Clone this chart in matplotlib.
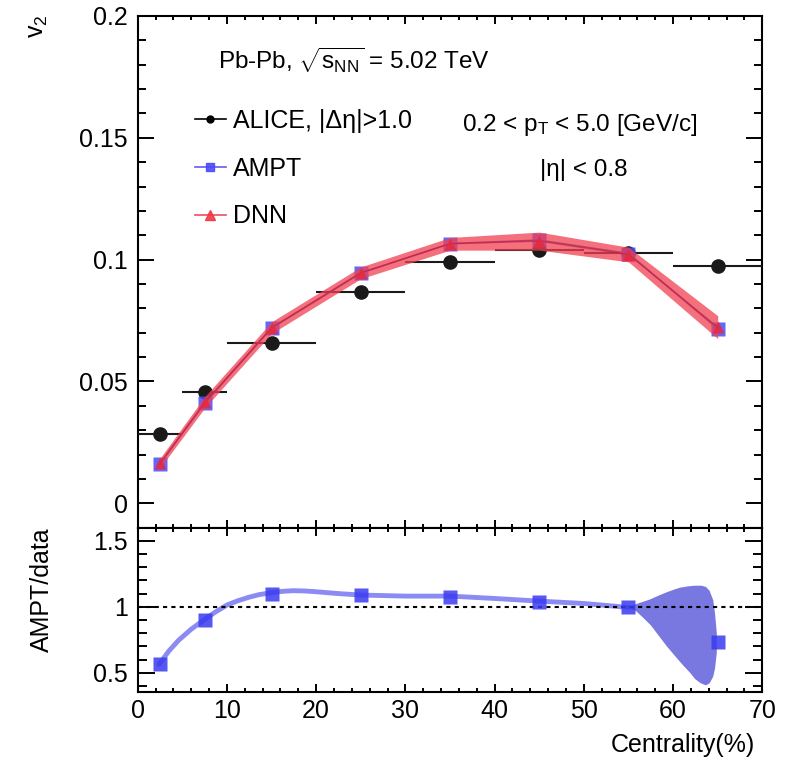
import numpy as np
import matplotlib
matplotlib.use("Agg")
import matplotlib.pyplot as plt
from matplotlib.lines import Line2D
from matplotlib.ticker import MultipleLocator

plt.rcParams['font.family'] = ['Liberation Sans', 'DejaVu Sans']
plt.rcParams['mathtext.fontset'] = 'custom'
plt.rcParams['mathtext.rm'] = 'Liberation Sans'
plt.rcParams['mathtext.it'] = 'Liberation Sans'
plt.rcParams['mathtext.sf'] = 'Liberation Sans'

# --- data ---
cent = np.array([2.5, 7.5, 15, 25, 35, 45, 55, 65])
cent_halfwidth = np.array([2.5, 2.5, 5, 5, 5, 5, 5, 5])

alice_v2 = np.array([0.0286, 0.0457, 0.0656, 0.0868, 0.0990, 0.1040, 0.1026, 0.0974])
alice_err = np.array([0.0003, 0.0003, 0.0003, 0.0004, 0.0004, 0.0005, 0.0005, 0.0005])

ampt_v2 = np.array([0.0162, 0.0410, 0.0719, 0.0945, 0.1066, 0.1080, 0.1025, 0.0717])

dnn_v2 = np.array([0.0165, 0.0414, 0.0721, 0.0946, 0.1065, 0.1076, 0.1021, 0.0723])
dnn_err = np.array([0.0020, 0.0023, 0.0024, 0.0024, 0.0026, 0.0037, 0.0030, 0.0047])

# smooth ratio curve as drawn in the lower panel
curve_x = [2.4, 3.5, 4.6, 6.0, 7.4, 8.7, 10, 11.2, 12.4, 13.6, 14.9, 16.2, 17.4,
           18.7, 20, 22.5, 25, 30, 35, 40, 45, 50, 55]
curve_r = [0.564, 0.665, 0.747, 0.830, 0.899, 0.960, 1.013, 1.045, 1.071, 1.092,
           1.106, 1.117, 1.122, 1.120, 1.114, 1.100, 1.089, 1.081, 1.081, 1.063,
           1.043, 1.025, 0.995]

# outline of the ratio uncertainty band for the last bins
band_x = [55, 56.3, 57.4, 58.4, 59.3, 60.1, 60.8, 61.7, 62.5, 63.2, 63.7, 64.1,
          64.5, 64.7, 64.9, 64.9, 64.7, 64.5, 64.1, 63.7, 63.1, 62.5, 61.9,
          61.2, 60.3, 59.3, 58.4, 57.5, 56.6, 55.8, 55]
band_r = [1.0, 1.03, 1.055, 1.085, 1.11, 1.13, 1.145, 1.155, 1.16, 1.16, 1.15,
          1.12, 1.05, 0.95, 0.8, 0.65, 0.53, 0.47, 0.42, 0.404, 0.42, 0.45, 0.5,
          0.55, 0.62, 0.70, 0.78, 0.86, 0.92, 0.97, 0.99]

ratio = ampt_v2 / alice_v2

fig = plt.figure(figsize=(7.85, 7.61), dpi=100)
ax = fig.add_axes([0.1754, 0.3066, 0.7957, 0.6724])
axr = fig.add_axes([0.1754, 0.0911, 0.7957, 0.2155])

blue = '#4b4bf5'
red = '#e8283c'

# --- main panel ---
ax.errorbar(cent, alice_v2, xerr=cent_halfwidth, yerr=alice_err, fmt='o',
            color='#1a1a1a', ms=9.5, elinewidth=1.5, capsize=0, zorder=3)
ax.plot(cent, ampt_v2, '-', color='#3030c0', lw=1.2, zorder=4)
ax.plot(cent, ampt_v2, 's', color=blue, alpha=0.85, ms=10, mec='none', zorder=4)
ax.fill_between(cent, dnn_v2 - dnn_err, dnn_v2 + dnn_err, color='#f04050',
                alpha=0.75, lw=0, zorder=5)
ax.plot(cent, dnn_v2, '-', color='#c0203a', lw=1.0, alpha=0.6, zorder=6)
ax.plot(cent, dnn_v2, '^', color=red, alpha=0.85, ms=9, mec='none', zorder=6)

ax.set_xlim(0, 70)
ax.set_ylim(-0.01, 0.2)
ax.xaxis.set_major_locator(MultipleLocator(10))
ax.xaxis.set_minor_locator(MultipleLocator(2))
ax.yaxis.set_minor_locator(MultipleLocator(0.01))
ax.set_yticks([0, 0.05, 0.1, 0.15, 0.2])
ax.set_yticklabels(['0', '0.05', '0.1', '0.15', '0.2'])
ax.tick_params(axis='both', which='both', direction='in', top=True, right=True,
               labelsize=18, width=1.4)
ax.tick_params(axis='y', which='major', length=11.5, pad=7)
ax.tick_params(axis='y', which='minor', length=5.8)
ax.tick_params(axis='x', which='major', length=5.8, labelbottom=False)
ax.tick_params(axis='x', which='minor', length=2.9)
for s in ax.spines.values():
    s.set_linewidth(1.5)

handles = [
    Line2D([], [], color='black', marker='o', ms=5, lw=1.2),
    Line2D([], [], color=blue, marker='s', ms=6, lw=1.2, alpha=0.9),
    Line2D([], [], color='#f03848', marker='^', ms=7, lw=1.2, alpha=0.9),
]
ax.legend(handles, [u'ALICE, |\u0394\u03b7|>1.0', 'AMPT', 'DNN'],
          loc='upper left', bbox_to_anchor=(0.075, 0.838), frameon=False,
          fontsize=18, handlelength=1.25, handletextpad=0.3,
          labelspacing=0.95, borderaxespad=0)

ax.text(0.128, 0.914, r'Pb-Pb, $\sqrt{s_{\rm NN}}$ = 5.02 TeV',
        transform=ax.transAxes, fontsize=17.5, va='center', ha='left')
ax.text(0.52, 0.787, r'0.2 < p$_{\rm T}$ < 5.0 [GeV/c]',
        transform=ax.transAxes, fontsize=17.5, va='center', ha='left')
ax.text(0.644, 0.699, u'|\u03b7| < 0.8',
        transform=ax.transAxes, fontsize=17.5, va='center', ha='left')

# --- ratio panel ---
axr.fill(band_x, band_r, color='#7878e0', lw=0, zorder=2)
axr.plot(curve_x, curve_r, '-', color='#5a5af0', lw=3.5, alpha=0.7,
         solid_capstyle='round', zorder=3)
axr.axhline(1.0, color='black', ls=(0, (2, 2)), lw=1.5, zorder=4)
axr.plot(cent, ratio, 's', color='#3a3af0', alpha=0.85, ms=10, mec='none', zorder=5)

axr.set_xlim(0, 70)
axr.set_ylim(0.356, 1.6)
axr.xaxis.set_major_locator(MultipleLocator(10))
axr.xaxis.set_minor_locator(MultipleLocator(2))
axr.set_yticks([0.5, 1.0, 1.5])
axr.set_yticklabels(['0.5', '1', '1.5'])
axr.yaxis.set_minor_locator(MultipleLocator(0.1))
axr.tick_params(axis='both', which='both', direction='in', top=True, right=True,
                labelsize=18, width=1.4)
axr.tick_params(axis='y', which='major', length=12, pad=7)
axr.tick_params(axis='y', which='minor', length=6.5)
axr.tick_params(axis='x', which='major', length=5.8, pad=5)
axr.tick_params(axis='x', which='minor', length=2.9)
for s in axr.spines.values():
    s.set_linewidth(1.5)

fig.text(38 / 785, 1 - 14 / 761, 'v$_2$', rotation=90, fontsize=18,
         ha='center', va='top')
fig.text(42 / 785, 1 - 527 / 761, 'AMPT/data', rotation=90, fontsize=18,
         ha='center', va='top')
fig.text(755 / 785, 1 - 745 / 761, 'Centrality(%)', fontsize=18,
         ha='right', va='center')

fig.savefig('out.png', dpi=100)
